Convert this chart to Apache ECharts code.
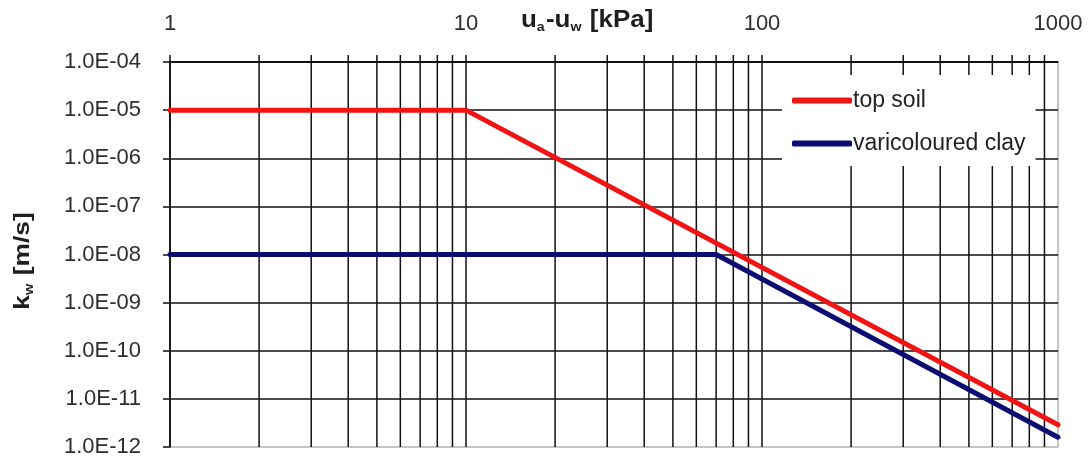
<!DOCTYPE html>
<html>
<head>
<meta charset="utf-8">
<script src="https://cdn.jsdelivr.net/npm/echarts@6/dist/echarts.min.js"></script>
<style>
  html, body { margin: 0; padding: 0; background: #fff; }
  #chart { width: 1090px; height: 462px; }
</style>
</head>
<body>
<div id="chart"></div>
<script>
// Suction (kPa) breakpoints and permeability k_w (m/s) for each soil
const topSoilSuction = [1, 10, 1000];
const topSoilK = [1.0e-5, 1.0e-5, 2.9e-12];
const claySuction = [1, 70, 1000];
const clayK = [1.0e-8, 1.0e-8, 1.6e-12];

// Decade gridlines that get a small outward tick above the top edge
const decadeSuction = [1, 10, 100];
// Intermediate gridline positions on the log suction axis
const minorSuction = [2, 3, 4, 5, 6, 7, 8, 9, 20, 30, 40, 50, 60, 70, 80, 90, 200, 300, 400, 500, 600, 700, 800, 900];

const seriesNames = ['top soil', 'varicoloured clay'];
const kMin = 1e-12, kMax = 1e-4;

const pairs = (xs, ys) => xs.map((x, i) => [x, ys[i]]);

const FONT = '"Liberation Sans", Arial, sans-serif';
const chart = echarts.init(document.getElementById('chart'), null, { renderer: 'canvas' });

// Vertical gridline that pokes 7px above the plot like a tick
function gridStub(full) {
  return (params, api) => {
    const v = api.value(0);
    const top = api.coord([v, kMax]);
    const bottom = api.coord([v, kMin]);
    return {
      type: 'line',
      shape: { x1: top[0], y1: top[1] - 7, x2: bottom[0], y2: full ? bottom[1] : top[1] },
      style: { stroke: '#111', lineWidth: 1.5 }
    };
  };
}

const titleRich = {
  b: { fontSize: 22, fontWeight: 'bold', fontFamily: FONT, fill: '#1e1e1e', lineHeight: 26 },
  s: { fontSize: 12, fontWeight: 'bold', fontFamily: FONT, fill: '#1e1e1e', lineHeight: 26, padding: [13, 1, 0, 0] }
};

chart.setOption({
  animation: false,
  backgroundColor: '#ffffff',
  grid: {
    left: 170, right: 32, top: 62, bottom: 15,
    show: true, borderColor: '#8a8a8a', borderWidth: 1, backgroundColor: 'transparent'
  },
  xAxis: {
    type: 'log', logBase: 10, min: 1, max: 1000, position: 'top',
    axisLine: { show: true, lineStyle: { color: '#111', width: 1.5 } },
    axisTick: { show: false },
    axisLabel: {
      margin: 27, color: '#2e2e2e', fontSize: 22, fontFamily: FONT,
      formatter: v => String(Math.round(v))
    },
    splitLine: { show: true, showMaxLine: false, lineStyle: { color: '#111', width: 1.5 } }
  },
  yAxis: {
    type: 'log', logBase: 10, min: kMin, max: kMax, splitNumber: 8,
    axisLine: { show: true, lineStyle: { color: '#111', width: 1.5 } },
    axisTick: { show: true, inside: false, length: 7, lineStyle: { color: '#111', width: 1.5 } },
    axisLabel: {
      margin: 29, color: '#2e2e2e', fontSize: 22, fontFamily: FONT,
      formatter: v => {
        const e = Math.round(Math.log10(v));
        const s = String(Math.abs(e)).padStart(2, '0');
        return '1.0E' + (e < 0 ? '-' : '+') + s;
      }
    },
    splitLine: { show: true, showMinLine: false, lineStyle: { color: '#111', width: 1.5 } }
  },
  legend: {
    data: seriesNames,
    orient: 'vertical',
    left: 782, top: 75,
    backgroundColor: '#ffffff',
    padding: [14, 10, 11, 10],
    itemGap: 20,
    itemWidth: 60, itemHeight: 6,
    icon: 'roundRect',
    textStyle: { color: '#222', fontSize: 23, fontFamily: FONT, padding: [0, 0, 0, -4] }
  },
  graphic: [
    {
      type: 'text', x: 521, y: 7, scaleX: 1.18, scaleY: 1.05,
      style: { text: '{b|u}{s|a}{b|-u}{s|w}{b| [kPa]}', rich: titleRich }
    },
    {
      type: 'text', x: 23, y: 261, rotation: Math.PI / 2, scaleX: 1.2, scaleY: 1.0,
      style: {
        text: '{b|k}{s|w}{b| [m/s]}',
        align: 'center', verticalAlign: 'middle',
        rich: titleRich
      }
    }
  ],
  series: [
    {
      type: 'custom',
      silent: true,
      clip: false,
      z: 1,
      data: minorSuction.map(v => [v, kMax]),
      encode: { x: 0, y: 1 },
      renderItem: gridStub(true)
    },
    {
      type: 'custom',
      silent: true,
      clip: false,
      z: 1,
      data: decadeSuction.map(v => [v, kMax]),
      encode: { x: 0, y: 1 },
      renderItem: gridStub(false)
    },
    {
      name: seriesNames[0],
      type: 'line',
      z: 3,
      symbol: 'none',
      data: pairs(topSoilSuction, topSoilK),
      lineStyle: { color: '#f01414', width: 5, cap: 'round', join: 'round' },
      itemStyle: { color: '#f01414' }
    },
    {
      name: seriesNames[1],
      type: 'line',
      z: 3,
      symbol: 'none',
      data: pairs(claySuction, clayK),
      lineStyle: { color: '#0c0c72', width: 5, cap: 'round', join: 'round' },
      itemStyle: { color: '#0c0c72' }
    }
  ]
});
</script>
</body>
</html>
